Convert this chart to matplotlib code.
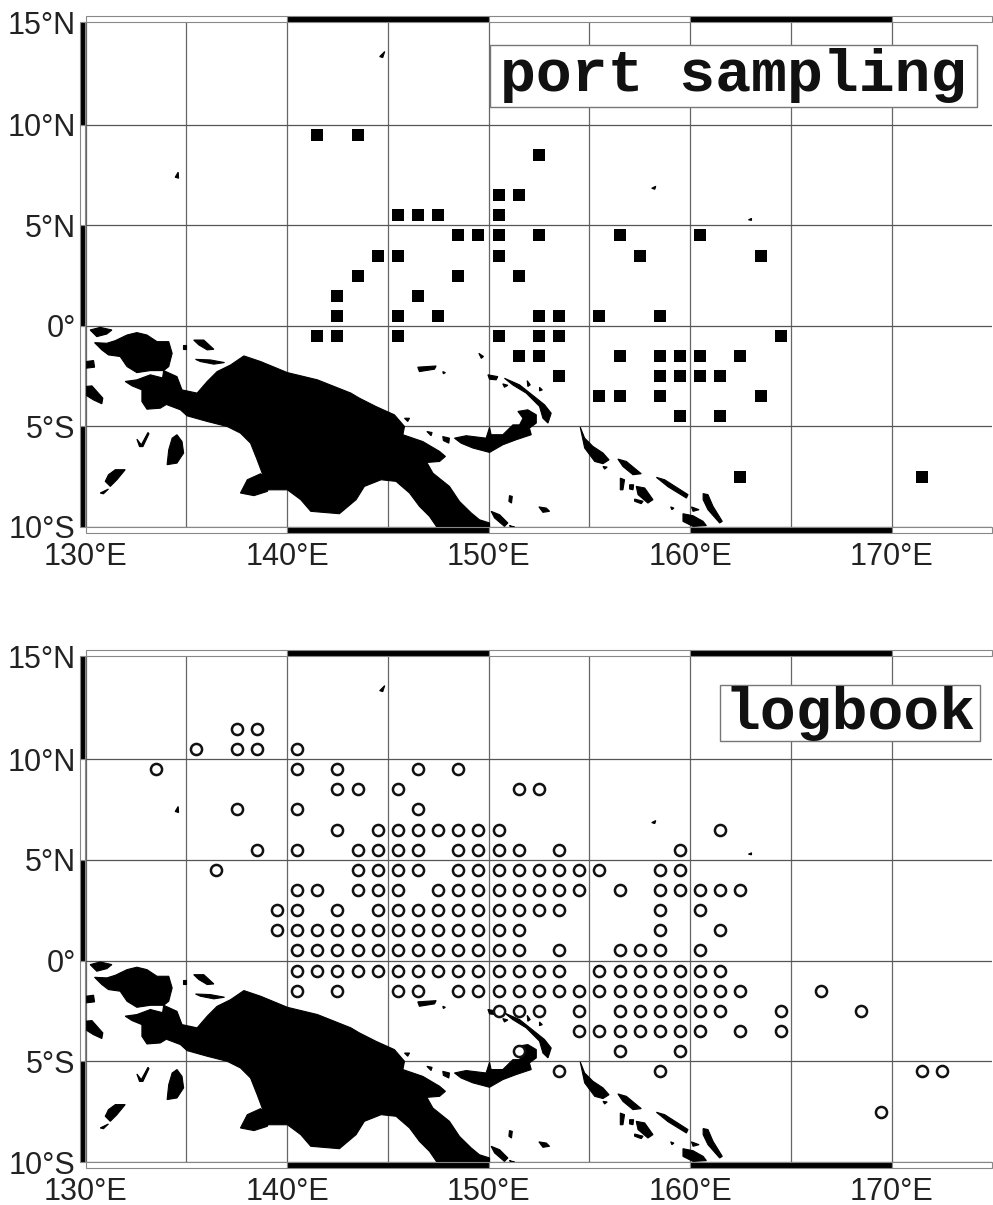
import matplotlib
matplotlib.use("Agg")
import matplotlib.pyplot as plt
from matplotlib.patches import Polygon, Rectangle

plt.rcParams['font.family'] = ['Liberation Sans', 'DejaVu Sans']

# coastlines, lon/lat pairs
land = [
    # bird's head
    [(130.45,-0.83),(131.06,-0.86),(131.48,-0.73),(132.06,-0.45),(132.55,-0.33),(133.05,-0.45),(133.55,-0.78),
     (134.13,-0.78),(134.30,-1.36),(134.13,-2.02),(133.88,-2.22),(133.22,-2.22),(132.55,-2.32),(132.06,-2.02),
     (131.72,-1.52),(131.14,-1.44),(130.81,-1.19)],
    # new guinea
    [(133.88,-2.22),(134.54,-2.52),(134.79,-3.18),(135.54,-3.34),(136.04,-2.76),(136.53,-2.27),(137.20,-1.94),
     (137.86,-1.49),(138.69,-1.77),(140.02,-2.32),(141.51,-2.68),(143.17,-3.34),(143.59,-3.59),(144.42,-4.01),
     (145.33,-4.42),(145.83,-5.0),(145.75,-5.41),(146.74,-5.75),(147.57,-6.24),(147.86,-6.49),(147.57,-6.74),
     (146.94,-6.79),(147.24,-7.32),(148.06,-7.98),(148.56,-8.73),(149.14,-9.30),(149.55,-9.64),(150.05,-9.80),
     (150.05,-10.2),(147.57,-10.2),(147.07,-9.47),(146.57,-8.97),(146.08,-8.31),(145.41,-7.73),(144.67,-7.65),
     (143.84,-7.98),(143.43,-8.64),(142.6,-9.34),(141.18,-9.22),(140.68,-8.64),(140.02,-8.15),(139.02,-8.15),
     (138.86,-7.57),(138.52,-6.66),(138.19,-5.83),(137.69,-5.33),(137.03,-5.0),(136.04,-4.75),(135.04,-4.47),
     (134.71,-4.17),(134.05,-3.92),(133.71,-3.34)],
    # bomberai
    [(131.97,-2.76),(132.55,-2.68),(133.22,-2.43),(133.88,-2.6),(134.38,-3.68),(133.71,-4.09),(133.05,-4.14),
     (132.8,-3.76),(132.8,-3.18),(132.31,-2.98)],
    [(137.69,-8.31),(138.03,-7.65),(138.69,-7.35),(139.19,-7.81),(139.02,-8.23),(138.36,-8.44)],
    [(130.23,-0.2),(130.73,-0.07),(131.31,-0.2),(131.06,-0.4),(130.56,-0.53)],
    [(130.03,-1.77),(130.4,-1.72),(130.45,-2.05),(130.03,-2.1)],
    [(130.0,-3.01),(130.32,-2.98),(130.86,-3.59),(130.81,-3.87),(130.4,-3.68),(130.0,-3.43)],
    [(135.37,-0.7),(135.87,-0.7),(136.37,-1.16),(136.04,-1.19),(135.62,-0.94)],
    [(135.46,-1.66),(136.2,-1.69),(136.9,-1.82),(136.37,-1.9),(135.7,-1.77)],
    [(134.83,-0.94),(135.0,-0.94),(135.0,-1.16),(134.83,-1.16)],
    [(132.55,-5.63),(132.77,-5.91),(133.1,-5.3),(133.15,-5.36),(132.85,-6.0),(132.68,-6.0)],
    [(134.54,-5.41),(134.79,-5.75),(134.87,-6.32),(134.54,-6.82),(134.05,-6.9),(134.13,-6.16),(134.3,-5.58)],
    [(131.48,-7.15),(131.97,-7.15),(131.56,-7.65),(131.23,-7.98),(130.98,-7.73),(131.14,-7.4)],
    [(130.73,-8.31),(131.14,-8.11),(130.89,-8.35)],
    [(146.49,-2.05),(147.4,-1.99),(147.32,-2.15),(146.57,-2.27)],
    [(147.73,-2.27),(147.86,-2.32),(147.76,-2.38)],
    [(149.52,-1.36),(149.75,-1.52),(149.64,-1.61)],
    [(149.97,-2.43),(150.46,-2.52),(150.38,-2.68),(150.05,-2.65)],
    # new ireland
    [(150.79,-2.6),(151.54,-2.93),(152.37,-3.59),(152.78,-3.92),(153.11,-4.34),(152.95,-4.83),(152.7,-4.59),
     (152.53,-4.0),(151.87,-3.34),(151.2,-2.93)],
    [(151.92,-2.72),(152.07,-2.93),(151.95,-3.01)],
    [(152.53,-3.05),(152.67,-3.18),(152.53,-3.23)],
    [(150.71,-2.88),(150.96,-2.95),(150.79,-3.05)],
    # new britain
    [(148.31,-5.58),(148.89,-5.46),(149.88,-5.58),(150.05,-5.05),(150.13,-5.41),(150.71,-5.41),(151.21,-4.92),
     (151.54,-4.92),(151.71,-4.59),(151.46,-4.25),(151.95,-4.17),(152.37,-4.42),(152.37,-4.83),(152.03,-5.08),
     (152.12,-5.41),(151.37,-5.66),(150.71,-5.91),(150.05,-6.29),(149.22,-6.07),(148.64,-5.83)],
    [(147.73,-5.5),(148.06,-5.58),(148.03,-5.83),(147.76,-5.7)],
    [(146.94,-5.25),(147.2,-5.3),(147.15,-5.46)],
    [(145.83,-4.59),(146.08,-4.59),(145.99,-4.75)],
    # solomons
    [(154.55,-5.03),(154.77,-5.58),(155.18,-5.99),(155.68,-6.32),(155.98,-6.66),(155.68,-6.85),(155.27,-6.74),
     (154.77,-6.07),(154.65,-5.5)],
    [(156.42,-6.62),(156.84,-6.74),(157.58,-7.35),(157.17,-7.4),(156.67,-6.99)],
    [(155.68,-6.99),(155.89,-7.02),(155.76,-7.12)],
    [(158.33,-7.53),(158.74,-7.65),(159.9,-8.39),(159.82,-8.56),(158.91,-8.0)],
    [(157.33,-7.98),(157.75,-8.06),(158.16,-8.64),(157.91,-8.81),(157.42,-8.39)],
    [(157.0,-7.9),(157.2,-7.9),(157.17,-8.15),(157.0,-8.11)],
    [(156.54,-7.57),(156.75,-7.65),(156.67,-8.15),(156.54,-8.15)],
    [(157.25,-8.61),(157.67,-8.72),(157.58,-8.84),(157.25,-8.72)],
    [(159.04,-9.0),(159.2,-9.06),(159.1,-9.14)],
    [(160.07,-9.0),(160.45,-9.14),(160.15,-9.22)],
    [(159.65,-9.34),(160.15,-9.44),(160.65,-9.72),(160.81,-9.93),(160.15,-9.97),(159.65,-9.72)],
    [(160.65,-8.34),(160.89,-8.39),(161.14,-8.97),(161.6,-9.72),(161.47,-9.8),(160.89,-9.14),(160.65,-8.64)],
    [(151.04,-8.44),(151.18,-8.48),(151.14,-8.81),(151.01,-8.72)],
    [(152.5,-9.0),(152.87,-9.06),(153.03,-9.22),(152.7,-9.27)],
    [(150.13,-9.22),(150.55,-9.39),(150.96,-9.8),(150.79,-9.97),(150.3,-9.55)],
    [(151.04,-9.93),(151.29,-10.0),(151.12,-10.0)],
    # north pacific specks
    [(134.45,7.4),(134.6,7.65),(134.62,7.35)],
    [(144.6,13.4),(144.85,13.65),(144.75,13.35)],
    [(158.1,6.85),(158.3,6.95),(158.25,6.8)],
    [(162.9,5.28),(163.05,5.35),(163.05,5.25)],
]

# port sampling squares, rows by latitude
port_rows = {
    9.5: [141.5, 143.5],
    8.5: [152.5],
    6.5: [150.5, 151.5],
    5.5: [145.5, 146.5, 147.5, 150.5],
    4.5: [148.5, 149.5, 150.5, 152.5, 156.5, 160.5],
    3.5: [144.5, 145.5, 150.5, 157.5, 163.5],
    2.5: [143.5, 148.5, 151.5],
    1.5: [142.5, 146.5],
    0.5: [142.5, 145.5, 147.5, 152.5, 153.5, 155.5, 158.5],
    -0.5: [141.5, 142.5, 145.5, 150.5, 152.5, 153.5, 164.5],
    -1.5: [151.5, 152.5, 156.5, 158.5, 159.5, 160.5, 162.5],
    -2.5: [153.5, 158.5, 159.5, 160.5, 161.5],
    -3.5: [155.5, 156.5, 158.5, 163.5],
    -4.5: [159.5, 161.5],
    -7.5: [162.5, 171.5],
}

# logbook circles, rows by latitude
log_rows = {
    11.5: [137.5, 138.5],
    10.5: [135.5, 137.5, 138.5, 140.5],
    9.5: [133.5, 140.5, 142.5, 146.5, 148.5],
    8.5: [142.5, 143.5, 145.5, 151.5, 152.5],
    7.5: [137.5, 140.5, 146.5],
    6.5: [142.5, 144.5, 145.5, 146.5, 147.5, 148.5, 149.5, 150.5, 161.5],
    5.5: [138.5, 140.5, 143.5, 144.5, 145.5, 146.5, 148.5, 149.5, 150.5, 151.5, 153.5, 159.5],
    4.5: [136.5, 143.5, 144.5, 145.5, 146.5, 148.5, 149.5, 150.5, 151.5, 152.5, 153.5, 154.5, 155.5, 158.5, 159.5],
    3.5: [140.5, 141.5, 143.5, 144.5, 145.5, 147.5, 148.5, 149.5, 150.5, 151.5, 152.5, 153.5, 154.5, 156.5, 158.5,
          159.5, 160.5, 161.5, 162.5],
    2.5: [139.5, 140.5, 142.5, 144.5, 145.5, 146.5, 147.5, 148.5, 149.5, 150.5, 151.5, 152.5, 153.5, 158.5, 160.5],
    1.5: [139.5, 140.5, 141.5, 142.5, 143.5, 144.5, 145.5, 146.5, 147.5, 148.5, 149.5, 150.5, 151.5, 158.5, 161.5],
    0.5: [140.5, 141.5, 142.5, 143.5, 144.5, 145.5, 146.5, 147.5, 148.5, 149.5, 150.5, 151.5, 153.5, 156.5, 157.5,
          158.5, 160.5],
    -0.5: [140.5, 141.5, 142.5, 143.5, 144.5, 145.5, 146.5, 147.5, 148.5, 149.5, 150.5, 151.5, 152.5, 153.5, 155.5,
           156.5, 157.5, 158.5, 159.5, 160.5, 161.5],
    -1.5: [140.5, 142.5, 145.5, 146.5, 148.5, 149.5, 150.5, 151.5, 152.5, 153.5, 154.5, 155.5, 156.5, 157.5, 158.5,
           159.5, 160.5, 161.5, 162.5, 166.5],
    -2.5: [150.5, 151.5, 152.5, 154.5, 156.5, 157.5, 158.5, 159.5, 160.5, 161.5, 164.5, 168.5],
    -3.5: [154.5, 155.5, 156.5, 157.5, 158.5, 159.5, 160.5, 162.5, 164.5],
    -4.5: [151.5, 156.5, 159.5],
    -5.5: [153.5, 158.5, 171.5, 172.5],
    -7.5: [169.5],
}

lon_grid = [130, 135, 140, 145, 150, 155, 160, 165, 170]
lat_grid = [-10, -5, 0, 5, 10]
lon_ticks = [130, 140, 150, 160, 170]
lon_labels = ['130°E', '140°E', '150°E', '160°E', '170°E']
lat_ticks = [-10, -5, 0, 5, 10, 15.12]
lat_labels = ['10°S', '5°S', '0°', '5°N', '10°N', '15°N']

W, H = 993, 1205
LEFT, RIGHT = 85.5, 992.3
LON0, LON1 = 130, 175
LAT0, LAT1 = -10, 15.12
FRAME = 0.29  # frame width in degrees


def rows_to_xy(rows):
    xs, ys = [], []
    for lat, lons in rows.items():
        for lon in lons:
            xs.append(lon)
            ys.append(lat)
    return xs, ys


def draw_frame(ax):
    # alternating black and white border, map style
    edges = [130, 140, 150, 160, 170, 175]
    for i in range(len(edges) - 1):
        c = 'black' if i % 2 == 1 else 'white'
        for y in [LAT1, LAT0 - FRAME]:
            ax.add_patch(Rectangle((edges[i], y), edges[i + 1] - edges[i], FRAME, fc=c, ec='#888888', lw=0.8,
                                   clip_on=False, zorder=6))
    edges = [-10, -5, 0, 5, 10, LAT1]
    for i in range(len(edges) - 1):
        c = 'black' if i % 2 == 0 else 'white'
        ax.add_patch(Rectangle((LON0 - FRAME, edges[i]), FRAME, edges[i + 1] - edges[i], fc=c, ec='#888888', lw=0.8,
                               clip_on=False, zorder=6))


def draw_panel(top, bottom, title, box):
    ax = fig.add_axes([LEFT / W, 1 - bottom / H, (RIGHT - LEFT) / W, (bottom - top) / H])
    ax.set_xlim(LON0, LON1)
    ax.set_ylim(LAT0, LAT1)
    for s in ax.spines.values():
        s.set_visible(False)
    ax.set_xticks(lon_ticks)
    ax.set_xticklabels(lon_labels, fontsize=22, color='#222222')
    ax.set_yticks(lat_ticks)
    ax.set_yticklabels(lat_labels, fontsize=22, color='#222222')
    ax.tick_params(axis='x', length=0, pad=11)
    ax.tick_params(axis='y', length=0, pad=7)
    for lon in lon_grid:
        ax.plot([lon, lon], [LAT0, LAT1], color='#666666', lw=0.9, zorder=1)
    for lat in lat_grid:
        ax.plot([LON0, LON1], [lat, lat], color='#555555', lw=0.9, zorder=1)
    for poly in land:
        ax.add_patch(Polygon(poly, closed=True, fc='black', ec='black', lw=0.8, zorder=2))
    draw_frame(ax)
    x0, x1, y0, y1 = box
    ax.add_patch(Rectangle((x0, y0), x1 - x0, y1 - y0, fc='white', ec='#777777', lw=1, zorder=5))
    ax.text((x0 + x1) / 2, (y0 + y1) / 2, title, family='Liberation Mono', fontweight='bold', fontsize=43,
            color='#111111', ha='center', va='center', zorder=5.5)
    return ax


fig = plt.figure(figsize=(W / 100, H / 100), dpi=100)

ax1 = draw_panel(22, 527, 'port sampling', (150.07, 174.24, 10.9, 13.98))
x, y = rows_to_xy(port_rows)
ax1.plot(x, y, ls='none', marker='s', ms=8.7, color='black', mew=0, zorder=4)

ax2 = draw_panel(656, 1162, 'logbook', (161.49, 174.39, 10.9, 13.68))
x, y = rows_to_xy(log_rows)
ax2.plot(x, y, ls='none', marker='o', ms=8, mfc='white', mec='#111111', mew=1.8, zorder=4)

fig.savefig('out.png', dpi=100)
